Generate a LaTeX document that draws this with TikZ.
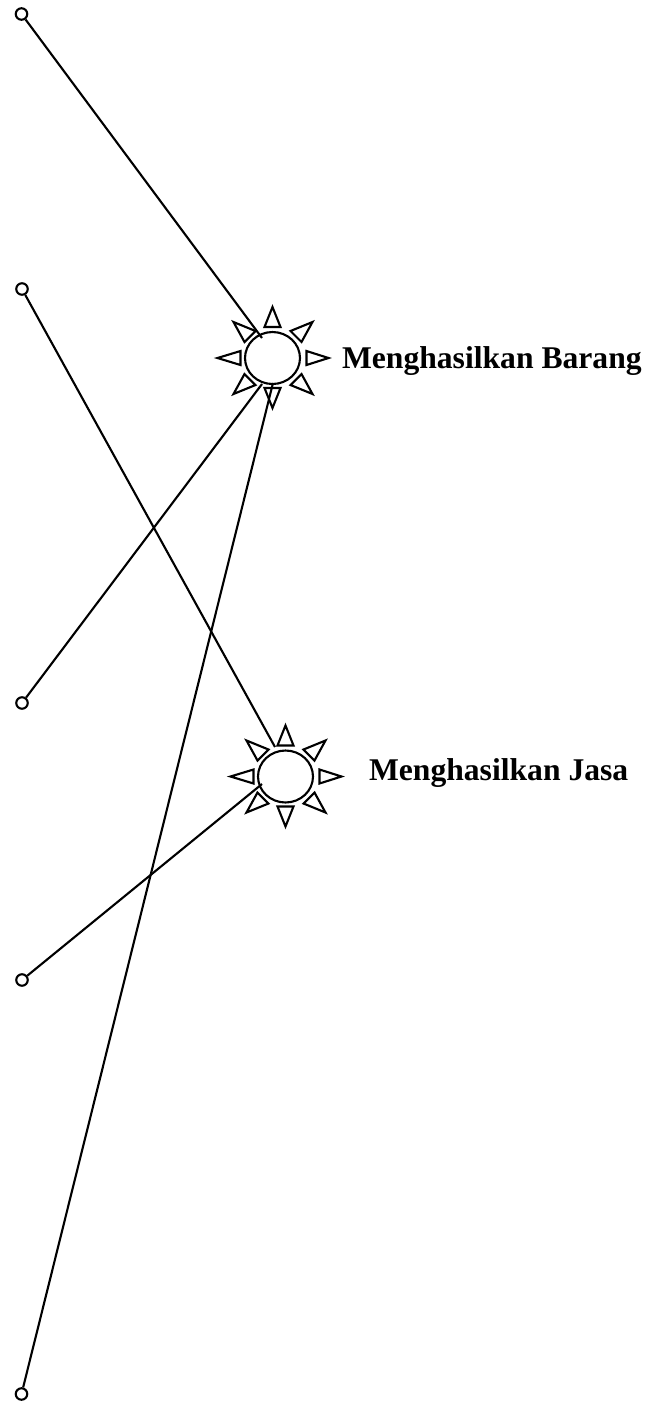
\documentclass[tikz,border=0pt]{standalone}
\usepackage{fontspec}
\setmainfont{Liberation Serif}
\usetikzlibrary{shapes.geometric}

\begin{document}
\begin{tikzpicture}[
        x=0.02cm, y=-0.02cm,
        line width=1.2pt,
        dot/.style={circle, draw, inner sep=0pt, minimum size=0.23cm},
        sun/.style={ellipse, draw, inner sep=0pt, minimum width=1.1cm, minimum height=1.04cm},
        label/.style={font=\fontsize{18}{22}\selectfont\bfseries, anchor=base west, inner sep=0pt}
    ]
    \useasboundingbox (0,0) rectangle (658,1401);

    % Left dots
    \node [dot] (d1) at (21.5,14) {};
    \node [dot] (d2) at (22,289) {};
    \node [dot] (d3) at (22,703) {};
    \node [dot] (d4) at (22,980) {};
    \node [dot] (d5) at (21.5,1394) {};

    % Suns
    \node [sun] (barang) at (272.5,358) {};
    \node [sun] (jasa) at (285.5,776.5) {};
    \foreach \s in {barang,jasa} {
        \begin{scope}[shift={(\s)}]
            \draw (0,-51) -- (-8,-31) -- (8,-31) -- cycle;
            \draw (0,50) -- (-8,30) -- (8,30) -- cycle;
            \draw (-55,0) -- (-32,-7) -- (-32,7) -- cycle;
            \draw (56,0) -- (34,-7) -- (34,7) -- cycle;
            \draw (40,-36) -- (18,-27) -- (29,-16) -- cycle;
            \draw (-39,-36) -- (-17,-27) -- (-28,-16) -- cycle;
            \draw (-39,36) -- (-28,16) -- (-17,27) -- cycle;
            \draw (40,36) -- (29,16) -- (18,27) -- cycle;
        \end{scope}
    }

    % Line ends on the suns
    \coordinate (b1) at (262,338);
    \coordinate (b2) at (262,384);
    \coordinate (b3) at (273,383);
    \coordinate (j1) at (275,747);
    \coordinate (j2) at (262,784);

    % Lines
    \draw (d1) -- (b1);
    \draw (d2) -- (j1);
    \draw (d3) -- (b2);
    \draw (d4) -- (j2);
    \draw (d5) -- (b3);

    % Labels
    \node [label] (t1) at (341,368) {Menghasilkan Barang};
    \node [label] (t2) at (368,780) {Menghasilkan Jasa};
\end{tikzpicture}
\end{document}
